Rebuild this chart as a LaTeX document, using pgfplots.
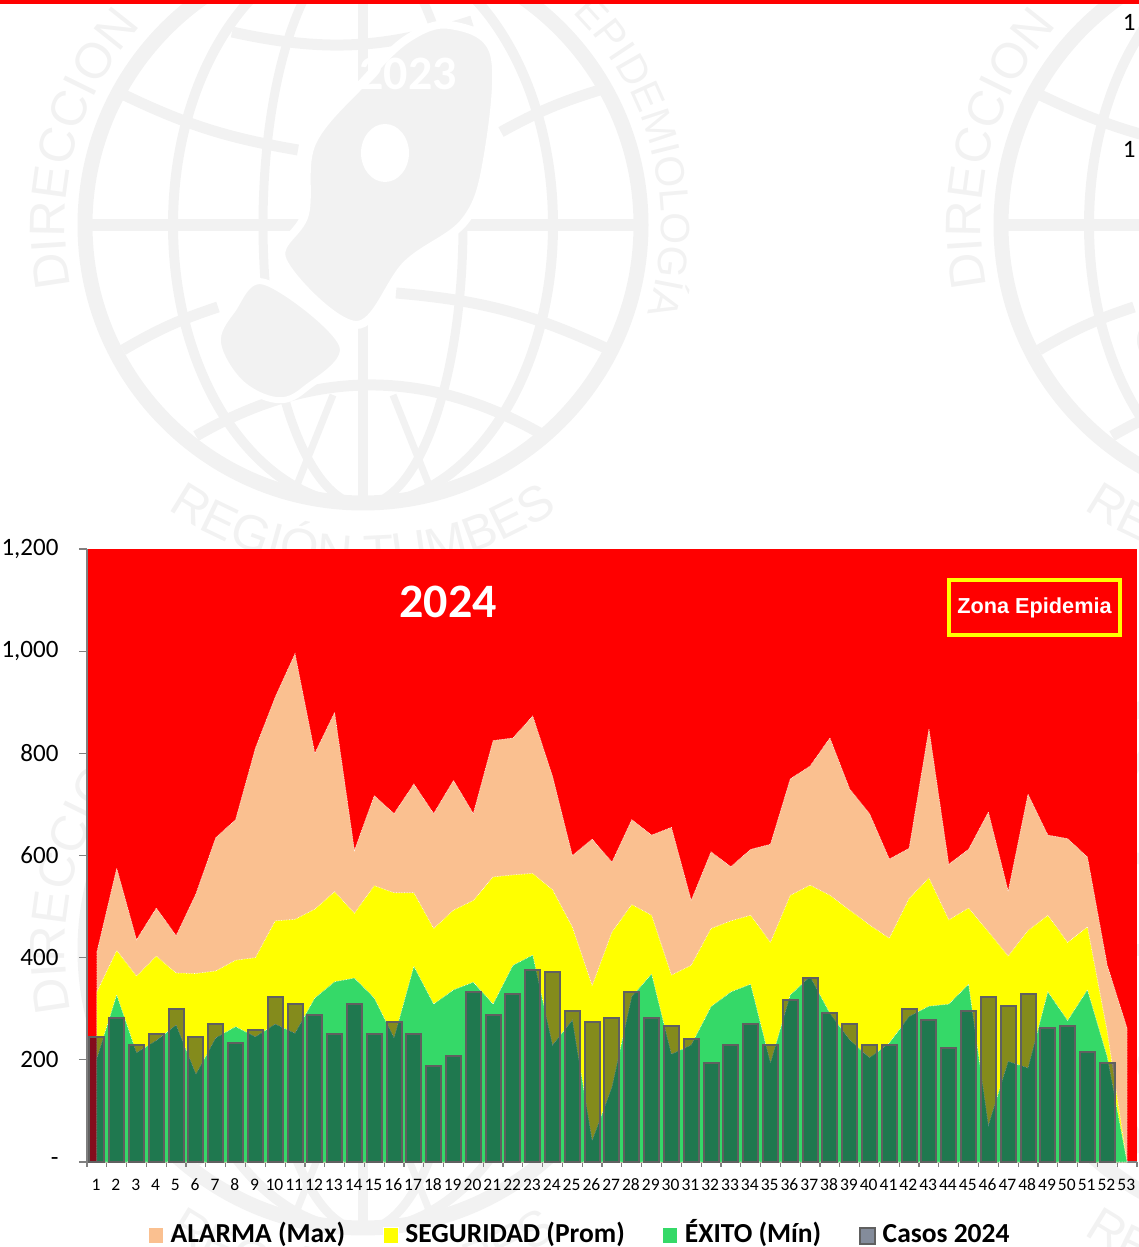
\documentclass[border=0pt]{standalone}
\usepackage{fontspec}
\setmainfont{Carlito}
\newfontfamily\arialf{Liberation Sans}
\usepackage{pgfplots}
\usepackage{pgfplotstable}
\pgfplotsset{compat=1.18}
\usetikzlibrary{decorations.text}
\definecolor{wm}{HTML}{F2F2F2}
\definecolor{alarma}{HTML}{FAC090}
\definecolor{segu}{RGB}{255,255,0}
\definecolor{rojo}{RGB}{255,0,0}
\definecolor{exito}{HTML}{35D968}
\definecolor{casos}{RGB}{10,25,56}
\definecolor{casosline}{HTML}{606060}
\definecolor{axisgray}{HTML}{808080}
\pgfplotstableread{
w a
1 411
2 575
3 435
4 497
5 443
6 525
7 635
8 670
9 810
10 910
11 995
12 800
13 880
14 610
15 717
16 682
17 740
18 682
19 747
20 682
21 825
22 830
23 873
24 755
25 600
26 632
27 587
28 670
29 640
30 655
31 512
32 607
33 578
34 612
35 622
36 750
37 775
38 830
39 730
40 682
41 593
42 614
43 848
44 583
45 612
46 685
47 530
48 720
49 640
50 633
51 597
52 385
53 262
}\alarmatbl
\pgfplotstableread{
w s
1 333
2 414
3 364
4 403
5 370
6 369
7 374
8 395
9 400
10 472
11 475
12 495
13 529
14 487
15 541
16 527
17 527
18 457
19 493
20 512
21 558
22 562
23 565
24 533
25 460
26 345
27 450
28 504
29 483
30 366
31 385
32 457
33 472
34 483
35 430
36 522
37 542
38 522
39 493
40 464
41 438
42 516
43 556
44 474
45 497
46 451
47 403
48 453
49 483
50 430
51 460
52 255
53 0
}\seguridadtbl
\pgfplotstableread{
w e
1 203
2 327
3 214
4 238
5 268
6 172
7 243
8 265
9 245
10 270
11 252
12 321
13 353
14 360
15 321
16 243
17 383
18 309
19 337
20 352
21 309
22 385
23 405
24 229
25 278
26 42
27 147
28 324
29 368
30 211
31 229
32 304
33 333
34 348
35 194
36 327
37 363
38 291
39 239
40 204
41 233
42 285
43 305
44 309
45 348
46 72
47 197
48 184
49 333
50 277
51 337
52 206
53 0
}\exitotbl
\pgfplotstableread{
w c
1 244
2 281
3 230
4 251
5 299
6 244
7 270
8 233
9 258
10 323
11 309
12 288
13 251
14 309
15 251
16 274
17 251
18 187
19 208
20 332
21 288
22 329
23 375
24 371
25 295
26 274
27 281
28 332
29 281
30 266
31 241
32 194
33 230
34 270
35 230
36 317
37 361
38 292
39 270
40 230
41 230
42 299
43 278
44 223
45 296
46 323
47 306
48 329
49 262
50 266
51 216
52 194
}\casostbl
% watermark, drawn around centre (#1,#2)
\newcommand{\wmark}[2]{%
\begin{scope}[shift={(#1pt,#2pt)},x=1pt,y=-1pt]
  \draw[wm,line width=15pt] (0,0) circle[radius=278];
  \draw[wm,line width=10pt] (0,0) ellipse[x radius=190,y radius=280];
  \draw[wm,line width=9pt] (0,0) ellipse[x radius=100,y radius=280];
  \draw[wm,line width=10pt] (0,-280) -- (0,280);
  \draw[wm,line width=12pt] (-280,0) -- (280,0);
  \draw[wm,line width=11pt] (-243,-132) to[bend right=8] (-65,-75);
  \draw[wm,line width=11pt] (138,-93) to[bend left=6] (240,-136);
  \draw[wm,line width=11pt] (-240,125) to[bend left=6] (-145,82);
  \draw[wm,line width=11pt] (33,68) to[bend left=10] (247,125);
  \draw[wm,line width=11pt] (-167,211) to[bend left=30] (182,211);
  \draw[wm,line width=11pt] (-131,-193) to[bend right=15] (109,-204);
  \draw[wm,line width=7pt] (-70,270) -- (-30,170);
  \draw[wm,line width=7pt] (70,270) -- (30,170);
  \draw[white,line width=8pt,fill=wm]
    plot[smooth cycle,tension=.6] coordinates {(87,-200) (131,-171) (124,-65) (102,-4) (44,39) (-7,100) (-80,36) (-58,-11) (-51,-82) (0,-143) (44,-186)};
  \fill[white] (22,-72) ellipse[x radius=24,y radius=29];
  \draw[white,line width=6pt,fill=wm]
    plot[smooth cycle,tension=.6] coordinates {(-98,57) (-21,120) (-58,164) (-87,175) (-123,157) (-145,118) (-131,86)};
\end{scope}
\begin{scope}[shift={(#1pt,#2pt)},x=1pt,y=1pt]
  \path[decorate,decoration={text along path,text align=center,text={|\fontsize{50}{50}\selectfont\arialf\color{wm}|DIRECCION}}]
    (200:298) arc[start angle=200,end angle=130,radius=298];
  \path[decorate,decoration={text along path,text align=center,text={|\fontsize{41}{41}\selectfont\arialf\color{wm}|EPIDEMIOLOGÍA}}]
    (52:298) arc[start angle=52,end angle=-24,radius=298];
  \path[decorate,decoration={text along path,text align=center,text={|\fontsize{49.5}{49.5}\selectfont\arialf\color{wm}|REGIÓN TUMBES}}]
    (232:345) arc[start angle=232,end angle=308,radius=345];
\end{scope}}
\begin{document}
\begin{tikzpicture}[x=1pt,y=1pt]
\useasboundingbox (0,0) rectangle (1139,1247);
\wmark{363}{1022}
\wmark{1279}{1022}
\wmark{363}{297}
\wmark{1279}{297}
\fill[rojo] (0,1243) rectangle (1139,1247);
\node[text=white,font=\fontsize{48}{48}\selectfont\bfseries] at (408,1173) {2023};
\node[anchor=east,font=\fontsize{25}{25}\selectfont] at (1139,1225) {1};
\node[anchor=east,font=\fontsize{25}{25}\selectfont] at (1139,1098) {1};
\begin{axis}[
  at={(87pt,85pt)},anchor=south west,
  scale only axis,width=1050pt,height=613pt,
  xmin=0.5,xmax=53.5,ymin=0,ymax=1200,
  axis lines=left,
  axis line style={-,axisgray,line width=1.5pt},
  axis background/.style={fill=rojo},
  /pgf/number format/assume math mode=true,
  xtick={1,...,53},
  minor xtick={0.5,1.5,...,53.5},
  ytick={0,200,400,600,800,1000,1200},
  yticklabels={{-\hspace{13pt}},200,400,600,800,{1,000},{1,200}},
  tick align=outside,
  major tick length=8pt,
  minor tick length=5pt,
  xtick style={draw=none},
  minor x tick style={draw=axisgray,line width=1.2pt},
  ytick style={draw=axisgray,line width=1.2pt},
  x tick label style={font=\fontsize{17.5}{17.5}\selectfont,text height=12pt,text depth=0pt,yshift=-5pt,xshift=-0.8pt},
  y tick label style={font=\fontsize{25}{25}\selectfont,xshift=-17pt},
  legend style={at={(0.058,-0.1203)},anchor=west,draw=none,fill=none,
    legend columns=4,font=\fontsize{27.5}{27.5}\selectfont\bfseries,
    nodes={text height=20pt,text depth=6pt},
    /tikz/every even column/.append style={column sep=35.5pt},
    inner sep=0pt},
  legend image code/.code={\draw[#1,solid] (0pt,-8pt) rectangle (15pt,8pt);\path (20pt,0pt);},
]
\addplot[draw=white,densely dotted,line width=.6pt,fill=alarma] table[x=w,y=a] {\alarmatbl} \closedcycle;
\addlegendentry{ALARMA (Max)}
\addplot[draw=white,densely dotted,line width=.6pt,fill=segu] table[x=w,y=s] {\seguridadtbl} \closedcycle;
\addlegendentry{SEGURIDAD (Prom)}
\addplot[draw=white,densely dotted,line width=.6pt,fill=exito] table[x=w,y=e] {\exitotbl} \closedcycle;
\addlegendentry{ÉXITO (Mín)}
\addplot[ybar,bar width=15pt,draw=casosline,line width=2pt,fill=casos,fill opacity=.5] table[x=w,y=c] {\casostbl};
\addlegendentry{Casos 2024}
\end{axis}
\node[text=white,font=\fontsize{48}{48}\selectfont\bfseries] at (448,645) {2024};
\node[draw=segu,line width=4pt,minimum width=171pt,minimum height=55pt,text=white,
  font=\fontsize{21.7}{22}\selectfont\arialf\bfseries] at (1034.5,639.5) {Zona Epidemia};
\end{tikzpicture}
\end{document}
